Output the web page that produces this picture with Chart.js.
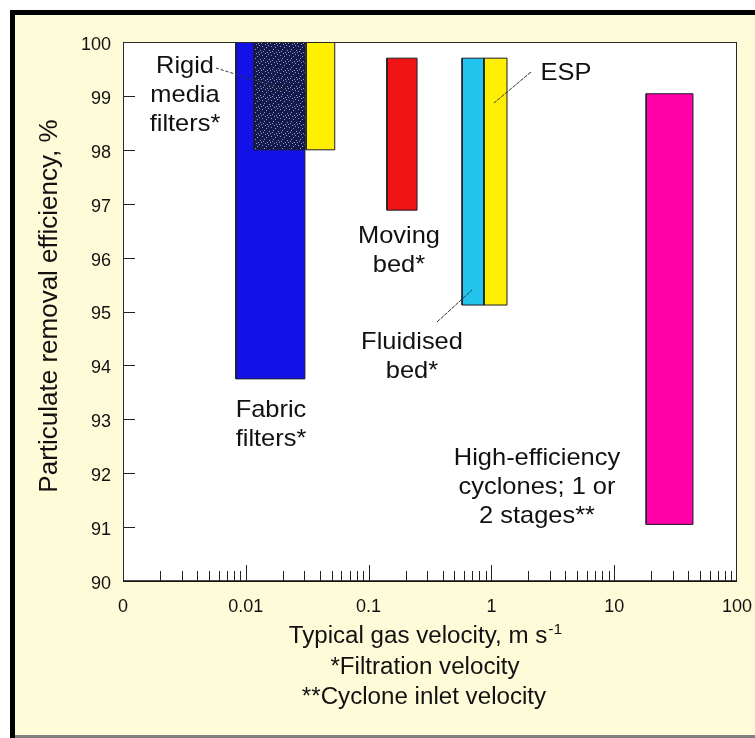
<!DOCTYPE html>
<html>
<head>
<meta charset="utf-8">
<script src="https://cdn.jsdelivr.net/npm/chart.js@4.4.1/dist/chart.umd.min.js"></script>
<style>
  html, body { margin: 0; padding: 0; background: #fff; }
  canvas { display: block; }
</style>
</head>
<body>
<canvas id="chart" width="755" height="738"></canvas>
<script>
// ranges: velocity (m/s, log axis) and removal efficiency (%)
const boxNames = ['Fabric filters', 'Rigid media filters', 'Rigid media (ceramic)', 'Moving bed', 'Fluidised bed', 'ESP', 'High-efficiency cyclones'];
const velLow  = [0.0083, 0.0117, 0.031, 0.141, 0.577, 0.871, 18.2];
const velHigh = [0.0303, 0.0303, 0.053, 0.248, 0.871, 1.34, 43.8];
const effLow  = [93.75, 98.0, 98.0, 96.88, 95.12, 95.12, 91.05];
const effHigh = [100, 100, 100, 99.7, 99.7, 99.7, 99.04];
const boxColors = ['#1212e6', 'pattern', '#fff000', '#f01414', '#22c4ee', '#fff000', '#ff00a8'];

const xTickValues = [0.001, 0.01, 0.1, 1, 10, 100];
const xTickLabels = ['0', '0.01', '0.1', '1', '10', '100'];
const minorSteps = [2, 3, 4, 5, 6, 7, 8, 9];
const yTicks = [90, 91, 92, 93, 94, 95, 96, 97, 98, 99, 100];

const FONT = '"Liberation Sans", Arial, Helvetica, sans-serif';

// speckled navy fill used for the rigid media filters
function speckle() {
  const c = document.createElement('canvas');
  c.width = 9; c.height = 9;
  const g = c.getContext('2d');
  g.fillStyle = '#141b4c';
  g.fillRect(0, 0, 9, 9);
  g.fillStyle = '#8f98c8';
  [[1, 1], [5, 2], [3, 4], [8, 5], [0, 7], [6, 7], [7, 0], [2, 6], [4, 8]].forEach(p => g.fillRect(p[0], p[1], 1, 1));
  return c;
}

const ctx0 = document.getElementById('chart').getContext('2d');
const pattern = ctx0.createPattern(speckle(), 'repeat');

// chart.js paints dataset 0 last, so give later boxes a lower order to keep them on top
const datasets = boxNames.map((name, i) => ({
  label: name,
  data: [
    { x: velLow[i], y: effLow[i] },
    { x: velHigh[i], y: effLow[i] },
    { x: velHigh[i], y: effHigh[i] },
    { x: velLow[i], y: effHigh[i] },
    { x: velLow[i], y: effLow[i] },
  ],
  order: boxNames.length - i,
  showLine: true,
  fill: 'shape',
  backgroundColor: boxColors[i] === 'pattern' ? pattern : boxColors[i],
  borderColor: '#1c1c28',
  borderWidth: 1,
  pointRadius: 0,
  tension: 0,
}));

const notes = [
  { lines: ['Rigid', 'media', 'filters*'], x: 185, y: 66 },
  { lines: ['ESP'], x: 566, y: 73 },
  { lines: ['Moving', 'bed*'], x: 399, y: 236 },
  { lines: ['Fluidised', 'bed*'], x: 412, y: 342 },
  { lines: ['Fabric', 'filters*'], x: 271, y: 410 },
  { lines: ['High-efficiency', 'cyclones; 1 or', '2 stages**'], x: 537, y: 458 },
];
const leaders = [
  { from: [216, 68], to: [285, 90], dash: [3, 2] },
  { from: [531, 72], to: [494, 103], dash: [4, 1] },
  { from: [437, 322], to: [472, 290], dash: [4, 1] },
];

function stretchedText(ctx, text, x, y, sx) {
  ctx.save();
  ctx.translate(x, y);
  ctx.scale(sx, 1);
  ctx.fillText(text, 0, 0);
  ctx.restore();
}

const framePlugin = {
  id: 'frame',
  beforeDraw(chart) {
    const { ctx, chartArea: a } = chart;
    ctx.save();
    ctx.fillStyle = '#ffffff';
    ctx.fillRect(0, 0, 755, 738);
    ctx.fillStyle = '#000000';
    ctx.fillRect(10, 10, 745, 5);
    ctx.fillRect(10, 10, 5, 728);
    ctx.fillStyle = '#fdfbd8';
    ctx.fillRect(15, 15, 740, 720);
    ctx.fillStyle = '#808080';
    ctx.fillRect(15, 735, 740, 3);
    ctx.fillStyle = '#ffffff';
    ctx.fillRect(a.left, a.top, a.right - a.left, a.bottom - a.top);
    ctx.restore();
  },
  afterDraw(chart) {
    const { ctx, chartArea: a, scales } = chart;
    ctx.save();
    // plot box
    ctx.strokeStyle = '#2a2a2a';
    ctx.lineWidth = 1;
    ctx.strokeRect(a.left + 0.5, a.top + 0.5, a.right - a.left - 1, a.bottom - a.top);
    ctx.strokeStyle = '#111';
    ctx.lineWidth = 1.5;
    ctx.beginPath();
    ctx.moveTo(a.left, a.bottom);
    ctx.lineTo(a.right, a.bottom);
    ctx.stroke();

    // inward tick marks
    ctx.lineWidth = 1;
    ctx.strokeStyle = '#222';
    ctx.beginPath();
    yTicks.slice(1, -1).forEach(v => {
      const py = Math.round(scales.y.getPixelForValue(v)) + 0.5;
      ctx.moveTo(a.left, py);
      ctx.lineTo(a.left + 12, py);
    });
    xTickValues.slice(0, -1).forEach(d => {
      minorSteps.forEach(m => {
        const px = Math.round(scales.x.getPixelForValue(d * m)) + 0.5;
        ctx.moveTo(px, a.bottom);
        ctx.lineTo(px, a.bottom - 10);
      });
    });
    xTickValues.slice(1, -1).forEach(d => {
      const px = Math.round(scales.x.getPixelForValue(d)) + 0.5;
      ctx.moveTo(px, a.bottom);
      ctx.lineTo(px, a.bottom - 16);
    });
    ctx.stroke();

    // leader lines
    ctx.strokeStyle = '#333';
    leaders.forEach(l => {
      ctx.setLineDash(l.dash);
      ctx.beginPath();
      ctx.moveTo(l.from[0], l.from[1]);
      ctx.lineTo(l.to[0], l.to[1]);
      ctx.stroke();
    });
    ctx.setLineDash([]);

    // annotations
    ctx.fillStyle = '#111';
    ctx.textAlign = 'center';
    ctx.textBaseline = 'middle';
    ctx.font = '24px ' + FONT;
    notes.forEach(n => {
      n.lines.forEach((t, k) => stretchedText(ctx, t, n.x, n.y + k * 29, 1.06));
    });

    // axis titles
    ctx.font = '25px ' + FONT;
    ctx.save();
    ctx.translate(50, 306);
    ctx.rotate(-Math.PI / 2);
    ctx.scale(1.04, 1);
    ctx.fillText('Particulate removal efficiency, %', 0, 0);
    ctx.restore();

    const sx = 1.05;
    const main = 'Typical gas velocity, m s';
    ctx.font = '23px ' + FONT;
    const wMain = ctx.measureText(main).width * sx;
    ctx.font = '15px ' + FONT;
    const wSup = ctx.measureText('-1').width * sx;
    const x0 = 425 - (wMain + wSup) / 2;
    ctx.textAlign = 'left';
    ctx.font = '23px ' + FONT;
    stretchedText(ctx, main, x0, 637, sx);
    ctx.font = '15px ' + FONT;
    stretchedText(ctx, '-1', x0 + wMain + 1, 630, sx);
    ctx.textAlign = 'center';
    ctx.font = '23px ' + FONT;
    stretchedText(ctx, '*Filtration velocity', 425, 668, sx);
    stretchedText(ctx, '**Cyclone inlet velocity', 424, 698, sx);
    ctx.restore();
  }
};

new Chart(ctx0, {
  type: 'scatter',
  data: { datasets },
  plugins: [framePlugin],
  options: {
    responsive: false,
    animation: false,
    devicePixelRatio: 1,
    layout: { padding: { left: 15, top: 42, right: 18, bottom: 0 } },
    plugins: {
      legend: { display: false },
      tooltip: { enabled: false },
    },
    scales: {
      x: {
        type: 'logarithmic',
        min: 0.001,
        max: 100,
        grid: { display: false, drawTicks: false },
        border: { display: false },
        afterBuildTicks: (scale) => {
          scale.ticks = xTickValues.map(v => ({ value: v }));
        },
        afterFit: (scale) => {
          scale.height = 157;
          scale.paddingLeft = 0;
          scale.paddingRight = 0;
        },
        ticks: {
          autoSkip: false,
          maxRotation: 0,
          padding: 15,
          color: '#111',
          font: { family: FONT, size: 18 },
          callback: (value, index) => xTickLabels[index],
        },
      },
      y: {
        type: 'linear',
        min: 90,
        max: 100,
        grid: { display: false, drawTicks: false },
        border: { display: false },
        afterBuildTicks: (scale) => {
          scale.ticks = yTicks.map(v => ({ value: v }));
        },
        afterFit: (scale) => {
          scale.width = 108;
          scale.paddingTop = 0;
          scale.paddingBottom = 0;
        },
        ticks: {
          padding: 12,
          labelOffset: 3,
          color: '#111',
          font: { family: FONT, size: 18 },
        },
      },
    },
  },
});
</script>
</body>
</html>
